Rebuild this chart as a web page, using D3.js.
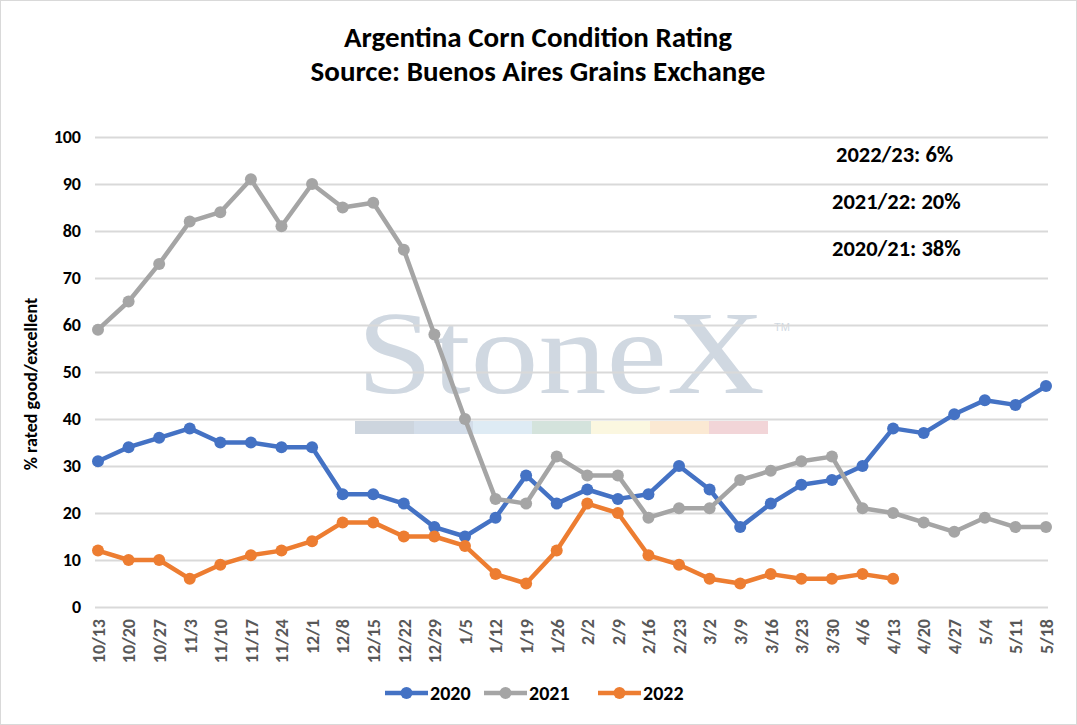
<!DOCTYPE html>
<html>
<head>
<meta charset="utf-8">
<script src="https://cdn.jsdelivr.net/npm/d3@7"></script>
<style>
  body { margin: 0; background: #fff; }
  svg { display: block; font-family: Carlito, "Open Sans", "Noto Sans", sans-serif; }
</style>
</head>
<body>
<svg id="chart" width="1077" height="725"></svg>
<script>
'use strict';

// week labels on the x axis
var weeks = ['10/13', '10/20', '10/27', '11/3', '11/10', '11/17', '11/24', '12/1', '12/8', '12/15',
    '12/22', '12/29', '1/5', '1/12', '1/19', '1/26', '2/2', '2/9', '2/16', '2/23', '3/2', '3/9',
    '3/16', '3/23', '3/30', '4/6', '4/13', '4/20', '4/27', '5/4', '5/11', '5/18'];

var rating2020 = [31, 34, 36, 38, 35, 35, 34, 34, 24, 24, 22, 17, 15, 19, 28, 22, 25, 23, 24, 30,
    25, 17, 22, 26, 27, 30, 38, 37, 41, 44, 43, 47];
var rating2021 = [59, 65, 73, 82, 84, 91, 81, 90, 85, 86, 76, 58, 40, 23, 22, 32, 28, 28, 19, 21,
    21, 27, 29, 31, 32, 21, 20, 18, 16, 19, 17, 17];
var rating2022 = [12, 10, 10, 6, 9, 11, 12, 14, 18, 18, 15, 15, 13, 7, 5, 12, 22, 20, 11, 9,
    6, 5, 7, 6, 6, 7, 6];

var seriesNames = ['2020', '2021', '2022'];
var yTicks = [0, 10, 20, 30, 40, 50, 60, 70, 80, 90, 100];
var notes = ['2022/23: 6%', '2021/22: 20%', '2020/21: 38%'];

var COLORS = ['#4472C4', '#A5A5A5', '#ED7D31'];
var WATERMARK_BAR = ['#cdd5de', '#d3dde9', '#deebf4', '#d4e3dc', '#fbf7e0', '#fbe9d3', '#f2d5d8'];

var svg = d3.select('#chart');

// outer frame
svg.append('rect')
    .attr('x', 0.5).attr('y', 0.5)
    .attr('width', 1076).attr('height', 724)
    .style('fill', '#fff')
    .style('stroke', '#d9d9d9');

var x = d3.scalePoint().domain(weeks).range([98, 1046]);
var y = d3.scaleLinear().domain([0, 100]).range([607, 137]);

// watermark (behind the grid)
var wm = svg.append('g');
wm.append('text')
    .attr('x', 357).attr('y', 393)
    .attr('textLength', 408)
    .attr('lengthAdjust', 'spacingAndGlyphs')
    .style('font-family', '"Liberation Serif", "DejaVu Serif", serif')
    .style('font-size', '118px')
    .style('fill', '#d0d8e1')
    .text('StoneX');
wm.append('text')
    .attr('x', 774).attr('y', 331)
    .style('font-family', '"Liberation Sans", sans-serif')
    .style('font-size', '11px')
    .style('fill', '#d0d8e1')
    .text('TM');
wm.selectAll('rect.band')
    .data(WATERMARK_BAR)
    .enter().append('rect')
    .attr('class', 'band')
    .attr('x', function(d, i) { return 355 + i * 59; })
    .attr('y', 421)
    .attr('width', 59)
    .attr('height', 13)
    .style('fill', function(d) { return d; });

// grid lines
svg.append('g')
    .selectAll('line')
    .data(yTicks)
    .enter().append('line')
    .attr('x1', 95).attr('x2', 1048)
    .attr('y1', function(d) { return Math.round(y(d)) + 0.5; })
    .attr('y2', function(d) { return Math.round(y(d)) + 0.5; })
    .style('stroke', '#d9d9d9')
    .style('stroke-width', 2);

// y axis labels
var yAxis = d3.axisLeft(y).tickValues(yTicks).tickSize(0).tickPadding(0);
var yg = svg.append('g').attr('transform', 'translate(81,0)').call(yAxis);
yg.attr('font-family', null).attr('font-size', null);
yg.select('.domain').remove();
yg.selectAll('text')
    .style('font-size', '18px')
    .style('font-weight', 'bold')
    .style('fill', '#000');

// x axis labels
var xAxis = d3.axisBottom(x).tickSize(0).tickPadding(0);
var xg = svg.append('g').attr('transform', 'translate(0,619)').call(xAxis);
xg.attr('font-family', null).attr('font-size', null);
xg.select('.domain').remove();
xg.selectAll('text')
    .attr('transform', 'rotate(-90)')
    .attr('x', 0)
    .attr('y', 0)
    .attr('dy', '0.35em')
    .style('text-anchor', 'end')
    .style('font-size', '18px')
    .style('font-weight', 'bold')
    .style('fill', '#595959');

// series
var allSeries = [rating2020, rating2021, rating2022];
var line = d3.line()
    .x(function(d, i) { return x(weeks[i]); })
    .y(function(d) { return y(d); });

allSeries.forEach(function(values, s) {
    var g = svg.append('g').attr('class', 'series-' + seriesNames[s]);
    g.append('path')
        .datum(values)
        .attr('d', line)
        .style('fill', 'none')
        .style('stroke', COLORS[s])
        .style('stroke-width', 4.5)
        .style('stroke-linejoin', 'round');
    g.selectAll('circle')
        .data(values)
        .enter().append('circle')
        .attr('cx', function(d, i) { return x(weeks[i]); })
        .attr('cy', function(d) { return y(d); })
        .attr('r', 6)
        .style('fill', COLORS[s]);
});

// titles
svg.append('text')
    .attr('x', 538).attr('y', 47)
    .style('text-anchor', 'middle')
    .style('font-size', '29px')
    .style('font-weight', 'bold')
    .text('Argentina Corn Condition Rating');
svg.append('text')
    .attr('x', 538).attr('y', 81)
    .style('text-anchor', 'middle')
    .style('font-size', '29px')
    .style('font-weight', 'bold')
    .text('Source: Buenos Aires Grains Exchange');

svg.append('text')
    .attr('transform', 'translate(37,384) rotate(-90)')
    .style('text-anchor', 'middle')
    .style('font-size', '18px')
    .style('font-weight', 'bold')
    .text('% rated good/excellent');

// season notes
svg.selectAll('text.note')
    .data(notes)
    .enter().append('text')
    .attr('class', 'note')
    .attr('x', function(d, i) { return i === 0 ? 836 : 832; })
    .attr('y', function(d, i) { return 162 + i * 47; })
    .style('font-size', '22.5px')
    .style('font-weight', 'bold')
    .text(function(d) { return d; });

// legend
var legendX = [385, 484, 598];
var lg = svg.append('g');
seriesNames.forEach(function(name, s) {
    var lx = legendX[s];
    lg.append('line')
        .attr('x1', lx).attr('x2', lx + 43)
        .attr('y1', 693).attr('y2', 693)
        .style('stroke', COLORS[s])
        .style('stroke-width', 4.5);
    lg.append('circle')
        .attr('cx', lx + 21.5).attr('cy', 693)
        .attr('r', 6)
        .style('fill', COLORS[s]);
    lg.append('text')
        .attr('x', lx + 45).attr('y', 700)
        .style('font-size', '20px')
        .style('font-weight', 'bold')
        .text(name);
});
</script>
</body>
</html>
